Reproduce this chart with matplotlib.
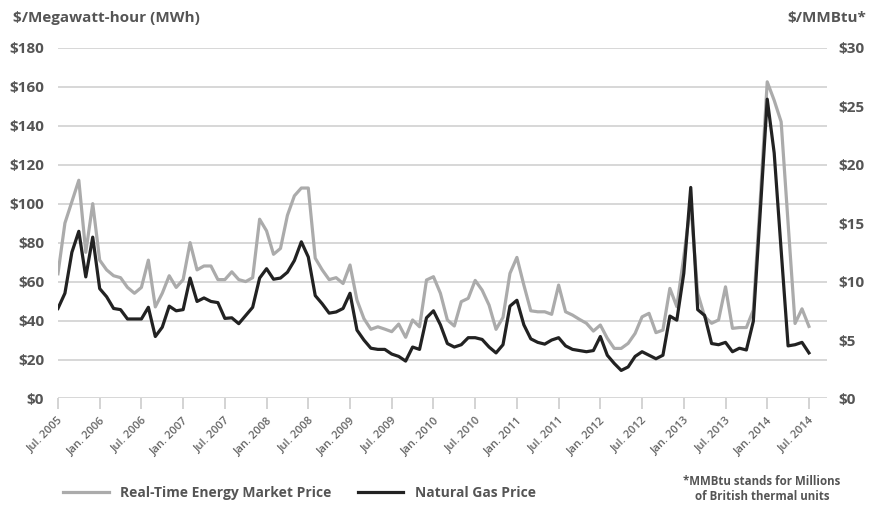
import matplotlib.pyplot as plt
import numpy as np

# monthly values Jul 2005 .. Jul 2014
energy = [64, 90, 101, 112, 75, 100,
          71, 66, 63, 62, 57, 54, 57, 71, 47, 54, 63, 57,
          61, 80, 66, 68, 68, 61, 61, 65, 61, 60, 62, 92,
          86, 74, 77, 94, 104, 108, 108, 72, 66, 61, 62, 59,
          68.5, 50.5, 41, 35.5, 36.8, 35.6, 34.3, 38.2, 31.4, 40.3, 36.8, 60.8,
          62.5, 54, 40.3, 37.2, 49.7, 51.4, 60.6, 55.6, 47.9, 35.5, 41.6, 64.2,
          72.4, 58.2, 45, 44.5, 44.5, 43.2, 58.2, 44.5, 42.8, 40.6, 38.6, 34.6,
          37.7, 30.9, 25.7, 25.7, 28.3, 33.4, 41.9, 43.7, 33.8, 35.1, 56.5, 47.1,
          72.7, 100, 54, 42, 38.6, 40.3, 57.3, 36, 36.4, 36.4, 45.4, 102,
          162.5, 153, 142, 90, 38.5, 46, 37]

gas = [7.7, 9.0, 12.5, 14.3, 10.4, 13.8,
       9.4, 8.7, 7.7, 7.6, 6.8, 6.8, 6.8, 7.8, 5.3, 6.1, 7.9, 7.5,
       7.6, 10.3, 8.3, 8.6, 8.3, 8.2, 6.85, 6.9, 6.4, 7.1, 7.8, 10.3,
       11.1, 10.2, 10.3, 10.8, 11.8, 13.4, 12.1, 8.8, 8.1, 7.3, 7.4, 7.7,
       9.0, 5.85, 5.0, 4.3, 4.2, 4.2, 3.8, 3.6, 3.2, 4.4, 4.2, 6.9,
       7.5, 6.3, 4.7, 4.4, 4.6, 5.2, 5.2, 5.05, 4.4, 3.9, 4.6, 7.9,
       8.4, 6.3, 5.1, 4.8, 4.65, 5.0, 5.2, 4.5, 4.2, 4.1, 4.0, 4.1,
       5.3, 3.7, 3.0, 2.4, 2.7, 3.6, 4.0, 3.7, 3.4, 3.7, 7.05, 6.7,
       10.7, 18.05, 7.6, 7.1, 4.7, 4.6, 4.8, 4.0, 4.3, 4.15, 6.6, 16,
       25.6, 21, 12.7, 4.5, 4.6, 4.8, 3.9]

tick_labels = ["Jul. 2005", "Jan. 2006", "Jul. 2006", "Jan. 2007", "Jul. 2007",
               "Jan. 2008", "Jul. 2008", "Jan. 2009", "Jul. 2009", "Jan. 2010",
               "Jul. 2010", "Jan. 2011", "Jul. 2011", "Jan. 2012", "Jul. 2012",
               "Jan. 2013", "Jul. 2013", "Jan. 2014", "Jul. 2014"]

plt.rcParams['font.family'] = ['Open Sans', 'DejaVu Sans']
txt = '#555555'

months = np.arange(len(energy))

fig = plt.figure(figsize=(8.69, 5.05), dpi=100)
ax = fig.add_axes([0.0667, 0.2109, 0.885, 0.6946])
l1, = ax.plot(months, energy, color='#ababab', lw=2.3)
ax2 = ax.twinx()
l2, = ax2.plot(months, gas, color='#222222', lw=2.3)

ax.set_xlim(0, 110.6)
ax.set_ylim(0, 180)
ax2.set_ylim(0, 30)

ax.set_yticks(range(0, 181, 20))
ax.set_yticklabels(["$%d" % v for v in range(0, 181, 20)], fontweight='bold')
ax2.set_yticks(range(0, 31, 5))
ax2.set_yticklabels(["$%d" % v for v in range(0, 31, 5)], fontweight='bold')

ax.grid(axis='y', color='#d4d4d4', lw=1.3)
ax.set_axisbelow(True)
for a in (ax, ax2):
    for s in a.spines.values():
        s.set_visible(False)
ax.tick_params(axis='y', length=0, pad=10, labelsize=11, labelcolor=txt)
ax2.tick_params(axis='y', length=0, pad=8, labelsize=11, labelcolor=txt)

ax.set_xticks(months[::6])
ax.set_xticklabels(tick_labels, rotation=45, ha='right', va='top',
                   rotation_mode='anchor', fontsize=8, fontweight='semibold',
                   color='#666666')
ax.tick_params(axis='x', length=8, width=1.2, color='#cccccc', pad=4)

fig.text(0.015, 0.965, "$/Megawatt-hour (MWh)", fontsize=11, fontweight='bold',
         color=txt, va='center')
fig.text(0.997, 0.965, "$/MMBtu*", fontsize=11, fontweight='bold',
         color=txt, va='center', ha='right')

fig.legend([l1, l2], ["Real-Time Energy Market Price", "Natural Gas Price"],
           loc='center left', bbox_to_anchor=(0.058, 0.024), ncol=2,
           frameon=False, handlelength=3.3, columnspacing=1.9,
           prop={'weight': 'bold', 'size': 10}, labelcolor=txt)

fig.text(0.877, 0.032, "*MMBtu stands for Millions\nof British thermal units",
         fontsize=8.3, fontweight='bold', color=txt, ha='center', va='center',
         linespacing=1.25)

fig.savefig('out.png', dpi=100)
